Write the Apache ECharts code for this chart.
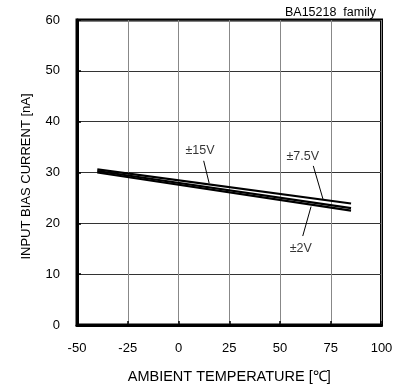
<!DOCTYPE html>
<html>
<head>
<meta charset="utf-8">
<script src="https://cdn.jsdelivr.net/npm/echarts@6/dist/echarts.min.js"></script>
<style>
html,body{margin:0;padding:0;background:#fff;}
#chart{width:406px;height:389px;}
</style>
</head>
<body>
<div id="chart"></div>
<script>
const temps = [-40, 85];
const v15 = [30.3, 23.0];
const v75 = [30.6, 23.9];
const v2 = [30.0, 22.5];
const xTicks = [-50, -25, 0, 25, 50, 75, 100];
const yTicks = [0, 10, 20, 30, 40, 50, 60];
const labelNames = ['±15V', '±7.5V', '±2V'];
const labelPos = [[10.6, 34.4], [61.2, 33.2], [60.2, 15.0]];
const leaders = [
  [[12.4, 32.3], [15.1, 27.9]],
  [[66.4, 31.3], [71.3, 24.6]],
  [[61.2, 17.5], [65.3, 23.3]]
];

const FONT = 'Liberation Sans, Arial, sans-serif';
const chart = echarts.init(document.getElementById('chart'), null, {renderer: 'canvas'});

function lineSeries(name, vals) {
  return {
    name: name, type: 'line', showSymbol: false, symbol: 'none',
    data: temps.map((t, i) => [t, vals[i]]),
    lineStyle: {color: '#000', width: 2.2},
    z: 5, animation: false
  };
}

chart.setOption({
  animation: false,
  backgroundColor: '#fff',
  title: {
    text: 'BA15218  family', right: 25, top: 1,
    textStyle: {fontFamily: FONT, fontSize: 12.5, fontWeight: 'normal', color: '#000'}
  },
  grid: {
    left: 77, right: 24.5, top: 20, bottom: 61.5,
    show: true, borderColor: '#000', borderWidth: 3, backgroundColor: 'transparent'
  },
  xAxis: {
    type: 'value', min: -50, max: 100, interval: 25,
    name: 'AMBIENT TEMPERATURE [℃]', nameLocation: 'middle', nameGap: 44,
    nameTextStyle: {fontFamily: FONT, fontSize: 14.5, color: '#000'},
    axisLine: {show: true, onZero: false, lineStyle: {color: '#000', width: 3}},
    axisTick: {show: true, inside: true, length: 4, lineStyle: {color: '#000', width: 1.5}},
    axisLabel: {fontFamily: FONT, fontSize: 13, color: '#000', margin: 17,
      formatter: v => xTicks.includes(v) ? String(v) : ''},
    splitLine: {show: true, lineStyle: {color: '#888', width: 1}}
  },
  yAxis: {
    type: 'value', min: 0, max: 60, interval: 10,
    name: 'INPUT BIAS CURRENT [nA]', nameLocation: 'middle', nameGap: 44,
    nameTextStyle: {fontFamily: FONT, fontSize: 13, color: '#000', padding: [0, 8, 0, 0]},
    axisLine: {show: true, onZero: false, lineStyle: {color: '#000', width: 3}},
    axisTick: {show: true, inside: true, length: 4, lineStyle: {color: '#000', width: 1.5}},
    axisLabel: {fontFamily: FONT, fontSize: 13, color: '#000', margin: 17,
      formatter: v => yTicks.includes(v) ? String(v) : ''},
    splitLine: {show: true, lineStyle: {color: '#333', width: 1}}
  },
  series: [
    lineSeries('±7.5V', v75),
    lineSeries('±15V', v15),
    lineSeries('±2V', v2),
    {
      type: 'lines', coordinateSystem: 'cartesian2d', polyline: false,
      data: leaders.map(c => ({coords: c})),
      lineStyle: {color: '#000', width: 1, opacity: 1},
      symbol: 'none', z: 6, animation: false
    },
    {
      type: 'scatter', symbolSize: 1,
      itemStyle: {color: 'rgba(0,0,0,0)'},
      data: labelPos.map((p, i) => ({name: labelNames[i], value: p})),
      label: {show: true, position: 'inside', formatter: p => p.name,
        fontFamily: FONT, fontSize: 12.5, color: '#000'},
      z: 7, animation: false
    }
  ]
});
</script>
</body>
</html>
